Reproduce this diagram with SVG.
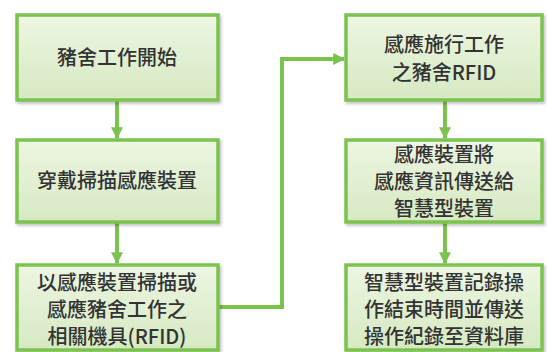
<svg xmlns="http://www.w3.org/2000/svg" width="547" height="352" viewBox="0 0 547 352">
<defs>
<linearGradient id="g" x1="0" y1="0" x2="0" y2="1">
<stop offset="0" stop-color="#edf6e2"/>
<stop offset="1" stop-color="#d5e9c2"/>
</linearGradient>
<filter id="sh" x="-5%" y="-5%" width="112%" height="115%">
<feDropShadow dx="1.5" dy="2" stdDeviation="1.5" flood-color="#000" flood-opacity="0.25"/>
</filter>
<marker id="ah" viewBox="0 0 10 10" refX="9" refY="5" markerWidth="3" markerHeight="3" orient="auto">
<path d="M0,0 L10,5 L0,10 z" fill="#7cc24f"/>
</marker>
</defs>
<style>
.box{fill:url(#g);stroke:#7cc24f;stroke-width:3.5;filter:url(#sh)}
.t{font-family:"Noto Sans CJK TC","Noto Sans",sans-serif;font-size:20px;font-weight:500;fill:#333;text-anchor:middle}
.c{fill:none;stroke:#7cc24f;stroke-width:4;marker-end:url(#ah)}
</style>
<rect width="547" height="352" fill="#fff"/>
<g id="connectors">
<path class="c" d="M117,100 V138"/>
<path class="c" d="M117,222 V263"/>
<path class="c" d="M218,307 H282 V59 H344"/>
<path class="c" d="M445,100 V138"/>
<path class="c" d="M445,222 V263"/>
</g>
<g id="n1"><rect class="box" x="17" y="15" width="201" height="85"/><text class="t" x="117" y="65">豬舍工作開始</text></g>
<g id="n2"><rect class="box" x="17" y="140" width="201" height="82"/><text class="t" x="117" y="188">穿戴掃描感應裝置</text></g>
<g id="n3"><rect class="box" x="17" y="265" width="201" height="85"/><text class="t" x="117" y="290">以感應裝置掃描或</text><text class="t" x="117" y="317">感應豬舍工作之</text><text class="t" x="117" y="344">相關機具(RFID)</text></g>
<g id="n4"><rect class="box" x="346" y="15" width="196" height="85"/><text class="t" x="444" y="52">感應施行工作</text><text class="t" x="444" y="80">之豬舍RFID</text></g>
<g id="n5"><rect class="box" x="346" y="140" width="196" height="82"/><text class="t" x="444" y="162">感應裝置將</text><text class="t" x="444" y="189">感應資訊傳送給</text><text class="t" x="444" y="216">智慧型裝置</text></g>
<g id="n6"><rect class="box" x="346" y="265" width="196" height="85"/><text class="t" x="444" y="290">智慧型裝置記錄操</text><text class="t" x="444" y="317">作結束時間並傳送</text><text class="t" x="444" y="344">操作紀錄至資料庫</text></g>
</svg>
